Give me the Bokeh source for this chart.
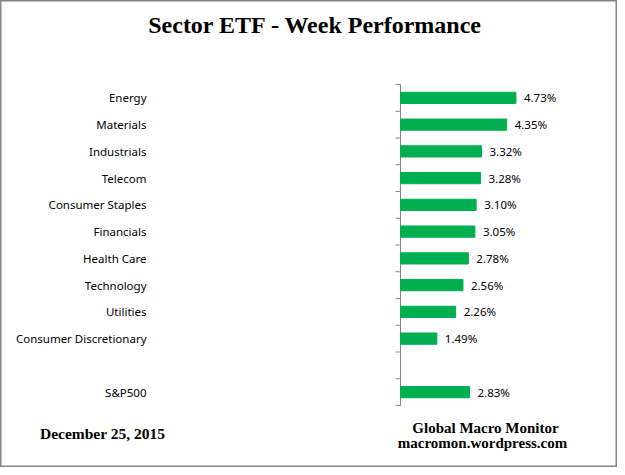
from bokeh.plotting import figure
from bokeh.models import Range1d, ColumnDataSource
from bokeh.core.properties import value
from bokeh.embed import file_html
from bokeh.resources import INLINE

# ---- data ----
chart_title = "Sector ETF - Week Performance"
categories = ["Energy", "Materials", "Industrials", "Telecom", "Consumer Staples",
              "Financials", "Health Care", "Technology", "Utilities",
              "Consumer Discretionary", "", "S&P500"]
values = [4.73, 4.35, 3.32, 3.28, 3.10, 3.05, 2.78, 2.56, 2.26, 1.49, None, 2.83]
date_text = "December 25,  2015"
credit_lines = ["Global Macro Monitor", "macromon.wordpress.com"]

# ---- layout (figure pixels) ----
W, H = 617, 467
FL, FT, FB = 400, 84, 405      # axis x, axis top, axis bottom
PX = 24.4                      # pixels per percent
n = len(categories)
SLOT = (FB - FT) / n

def xd(px):
    return (px - FL) / PX

def yd(py):
    return (py - FT) / SLOT

p = figure(width=W, height=H, output_backend="svg", toolbar_location=None,
           x_range=Range1d(xd(0), xd(W)), y_range=Range1d(yd(H), yd(0)),
           min_border=0)
p.outline_line_color = "#868686"
p.outline_line_width = 2
p.grid.visible = False
p.axis.visible = False

# axis line and boundary ticks
gray = "#868686"
p.segment(x0=[0], y0=[0], x1=[0], y1=[n], line_color=gray, line_width=1)
ticks = list(range(n + 1))
p.segment(x0=[xd(FL - 5)] * len(ticks), y0=ticks, x1=[0] * len(ticks), y1=ticks,
          line_color=gray, line_width=1)

bar_y = [i + 0.5 for i, v in enumerate(values) if v is not None]
bar_v = [v for v in values if v is not None]
bar_lbl = ["%.2f%%" % v for v in bar_v]
src = ColumnDataSource(dict(y=bar_y, value=bar_v, label=bar_lbl))
p.hbar(y="y", left=0, right="value", height=0.42, color="#00B050", source=src)

font = value("Noto Sans")
p.text(x="value", y="y", text="label", source=src, x_offset=8,
       text_baseline="middle", text_font=font,
       text_font_size="11.5px", text_color="#000000")

cat_src = ColumnDataSource(dict(x=[xd(146)] * n, y=[i + 0.5 for i in range(n)],
                                text=categories))
p.text(x="x", y="y", text="text", source=cat_src,
       text_align="right", text_baseline="middle", text_font=font,
       text_font_size="11.5px", text_color="#000000")

serif = value("Liberation Serif")
def add_text(px, py, txt, size):
    p.text(x=[xd(px)], y=[yd(py)], text=[txt], text_align="center",
           text_baseline="middle", text_font=serif, text_font_style="bold",
           text_font_size=size, text_color="#000000")

add_text(315, 24, chart_title, "24px")
add_text(104, 433, date_text, "15.5px")
add_text(485, 427, credit_lines[0], "15px")
add_text(482, 442, credit_lines[1], "15px")

open("out.html", "w").write(file_html(p, INLINE))
